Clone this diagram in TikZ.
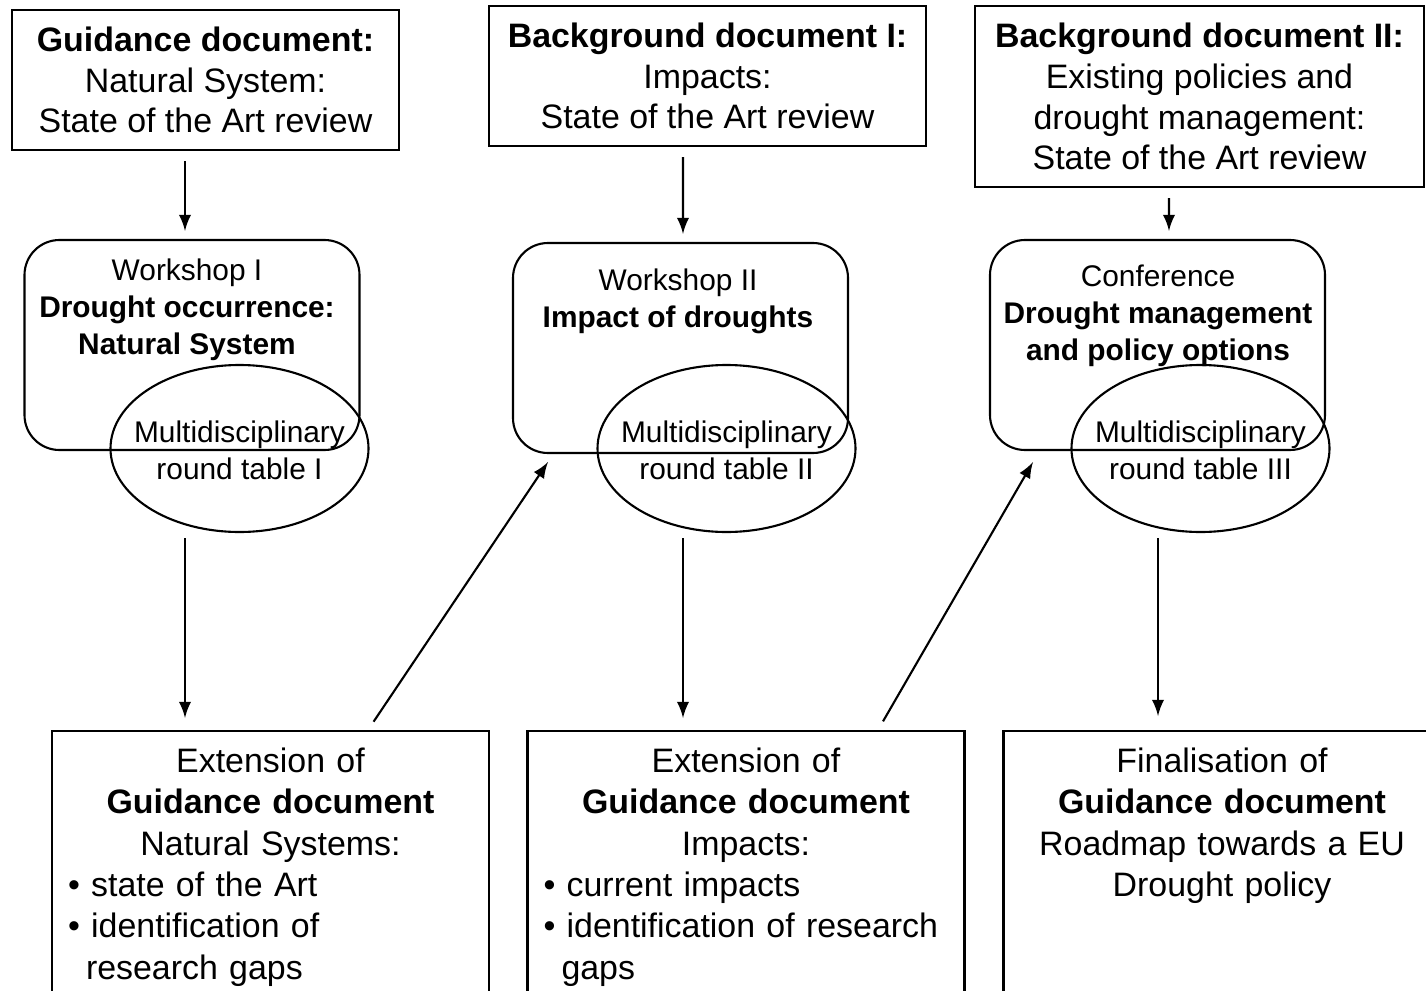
\documentclass[tikz,border=0pt]{standalone}
\usepackage{fontspec}
\setmainfont{Liberation Sans}
\usetikzlibrary{shapes.geometric}

\newcommand{\docfont}{\fontsize{9.65}{11.6}\selectfont}
\newcommand{\extfont}{\fontsize{9.65}{11.75}\selectfont}
\newcommand{\wsfont}{\fontsize{8.5}{10.5}\selectfont}

\tikzset{
  docbox/.style={shape=rectangle, draw=black, align=center, font=\docfont, inner sep=0pt},
  wsbox/.style={shape=rectangle, draw=black, rounded corners=0.35cm, minimum width=3.35cm, minimum height=2.1cm},
  wstext/.style={align=center, font=\wsfont, inner sep=0pt},
  rtable/.style={shape=ellipse, draw=black, inner sep=0pt, minimum width=2.58cm, minimum height=1.67cm, font=\wsfont},
  extbox/.style={shape=rectangle, draw=black, anchor=north, font=\extfont, text width=4.05cm, text depth=2.6cm, inner xsep=0.16cm, inner ysep=0.17cm},
  flow/.style={-latex, shorten >=0.08cm, shorten <=0.1cm}
}

\begin{document}
\begin{tikzpicture}[line width=0.6pt]
  \useasboundingbox (0,0) rectangle (14.26,-9.9);
  \clip (0,0) rectangle (14.26,-9.9);

  % documents on top
  \node[docbox, minimum width=3.87cm, minimum height=1.40cm] (gd) at (2.055,-0.80)
    {\textbf{Guidance document:}\\ Natural System:\\ State of the Art review};
  \node[docbox, minimum width=4.37cm, minimum height=1.40cm] (bd1) at (7.075,-0.76)
    {\textbf{Background document I:}\\ Impacts:\\ State of the Art review};
  \node[docbox, minimum width=4.49cm, minimum height=1.81cm] (bd2) at (11.995,-0.965)
    {\textbf{Background document II:}\\ Existing policies and\\ drought management:\\ State of the Art review};

  % meetings
  \node[wsbox] (ws1) at (1.92,-3.45) {};
  \node[wsbox] (ws2) at (6.805,-3.48) {};
  \node[wsbox] (cf) at (11.575,-3.45) {};
  \node[wstext] (ws1t) at (1.87,-3.095) {Workshop I\\ \textbf{Drought occurrence:}\\ \textbf{Natural System}};
  \node[wstext] (ws2t) at (6.78,-3.01) {Workshop II\\ \textbf{Impact of droughts}};
  \node[wstext] (cft) at (11.58,-3.155) {Conference\\ \textbf{Drought management}\\ \textbf{and policy options}};

  \node[rtable] (rt1) at (2.395,-4.485)
    {\makebox[0pt]{\begin{tabular}{@{}c@{}}\rule{0pt}{10.2pt}Multidisciplinary\\ round table I\end{tabular}}};
  \node[rtable] (rt2) at (7.265,-4.485)
    {\makebox[0pt]{\begin{tabular}{@{}c@{}}\rule{0pt}{10.2pt}Multidisciplinary\\ round table II\end{tabular}}};
  \node[rtable] (rt3) at (12.005,-4.485)
    {\makebox[0pt]{\begin{tabular}{@{}c@{}}\rule{0pt}{10.2pt}Multidisciplinary\\ round table III\end{tabular}}};

  % results
  \node[extbox] (ext1) at (2.705,-7.30)
    {\centering Extension of\\ \textbf{Guidance document}\\ Natural Systems:\par
     \raggedright \textbullet\ state of the Art\\ \textbullet\ identification of\\ \hspace*{0.18cm}research gaps\par};
  \node[extbox] (ext2) at (7.46,-7.30)
    {\centering Extension of\\ \textbf{Guidance document}\\ Impacts:\par
     \raggedright \textbullet\ current impacts\\ \textbullet\ identification of research\\ \hspace*{0.18cm}gaps\par};
  \node[extbox] (fin) at (12.22,-7.30)
    {\centering Finalisation of\\ \textbf{Guidance document}\\ Roadmap towards a EU\\ Drought policy\par};

  \coordinate (in2) at (5.48,-4.62);
  \coordinate (in3) at (10.33,-4.62);

  \draw[flow] ([xshift=-0.205cm]gd.south) -- ([xshift=-0.07cm]ws1.north);
  \draw[flow] ([xshift=-0.245cm]bd1.south) -- ([xshift=0.025cm]ws2.north);
  \draw[flow] ([xshift=-0.305cm]bd2.south) -- ([xshift=0.115cm]cf.north);
  \draw[flow, shorten <=0.05cm, shorten >=0.12cm] ([xshift=-0.545cm]rt1.south) -- ([xshift=-0.855cm]ext1.north);
  \draw[flow, shorten <=0.05cm, shorten >=0.12cm] ([xshift=-0.435cm]rt2.south) -- ([xshift=-0.63cm]ext2.north);
  \draw[flow, shorten <=0.05cm, shorten >=0.14cm] ([xshift=-0.425cm]rt3.south) -- ([xshift=-0.64cm]fin.north);
  \draw[flow, shorten >=0pt] ([xshift=0.975cm]ext1.north) -- (in2);
  \draw[flow, shorten >=0pt] ([xshift=1.32cm]ext2.north) -- (in3);
\end{tikzpicture}
\end{document}
